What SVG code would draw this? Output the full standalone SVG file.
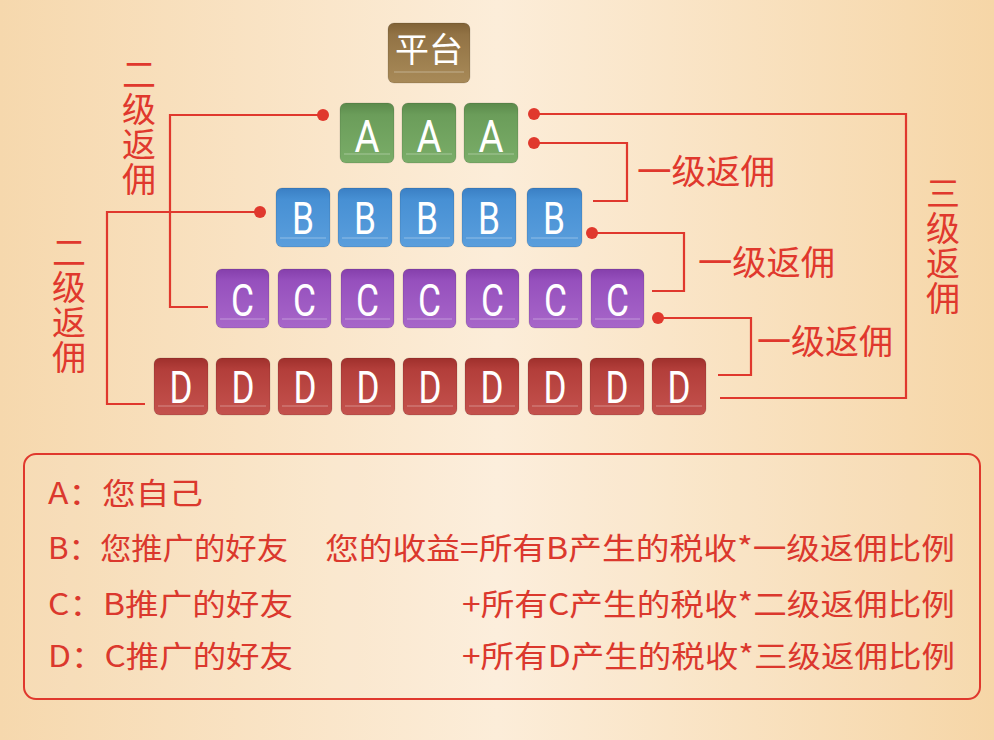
<svg xmlns="http://www.w3.org/2000/svg" width="994" height="740" viewBox="0 0 994 740">
<defs>
<linearGradient id="bg" x1="0" y1="0" x2="1" y2="0">
<stop offset="0" stop-color="#f6d8ad"/><stop offset="0.5" stop-color="#fcedd9"/><stop offset="1" stop-color="#f6d6a7"/>
</linearGradient>
<linearGradient id="gA" x1="0" y1="0" x2="0" y2="1"><stop offset="0" stop-color="#5b8a4b"/><stop offset="0.2" stop-color="#6b9d5a"/><stop offset="1" stop-color="#7aad68"/></linearGradient>
<linearGradient id="gB" x1="0" y1="0" x2="0" y2="1"><stop offset="0" stop-color="#3a7fc4"/><stop offset="0.2" stop-color="#4790d4"/><stop offset="1" stop-color="#5a9edc"/></linearGradient>
<linearGradient id="gC" x1="0" y1="0" x2="0" y2="1"><stop offset="0" stop-color="#853fab"/><stop offset="0.2" stop-color="#9650bd"/><stop offset="1" stop-color="#a766c9"/></linearGradient>
<linearGradient id="gD" x1="0" y1="0" x2="0" y2="1"><stop offset="0" stop-color="#9f302c"/><stop offset="0.2" stop-color="#b33e3a"/><stop offset="1" stop-color="#c4524d"/></linearGradient>
<linearGradient id="gP" x1="0" y1="0" x2="0" y2="1"><stop offset="0" stop-color="#806236"/><stop offset="0.2" stop-color="#927345"/><stop offset="1" stop-color="#a88a58"/></linearGradient>
</defs>
<style>
.ln{fill:none;stroke:#e0382d;stroke-width:2.2}
.dot{fill:#e0382d}
.lbl{font-family:"Noto Sans CJK SC","Noto Sans",sans-serif;font-size:34px;fill:#e0382d}
.vl{font-family:"Noto Sans CJK SC","Noto Sans",sans-serif;font-size:34px;fill:#e0382d;writing-mode:vertical-rl;letter-spacing:1px}
.txt{font-family:"Noto Sans CJK SC","Noto Sans",sans-serif;font-size:30px;fill:#db382d}
.key{stroke:rgba(0,0,0,0.12);stroke-width:1}
.lip{stroke:rgba(255,255,255,0.35);stroke-width:1.2}
.let{font-family:Roboto,"Noto Sans",sans-serif;font-size:44px;fill:#fff;text-anchor:middle}
.plat{font-family:"Noto Sans CJK SC",sans-serif;font-size:34px;fill:#fff;text-anchor:middle}
</style>
<rect width="994" height="740" fill="url(#bg)"/>

<g id="platform">
<rect x="388" y="23" width="82" height="60" rx="6" fill="url(#gP)" class="key"/>
<line x1="394" y1="72" x2="464" y2="72" class="lip"/>
<text x="429" y="62" class="plat">平台</text>
</g>

<g id="rowA">
<rect x="340" y="103" width="54" height="60" rx="6" fill="url(#gA)" class="key"/><line x1="344" y1="154" x2="390" y2="154" class="lip"/><text x="367" y="152" class="let" font-size="47" textLength="25" lengthAdjust="spacingAndGlyphs">A</text>
<rect x="402" y="103" width="54" height="60" rx="6" fill="url(#gA)" class="key"/><line x1="406" y1="154" x2="452" y2="154" class="lip"/><text x="429" y="152" class="let" font-size="47" textLength="25" lengthAdjust="spacingAndGlyphs">A</text>
<rect x="464" y="103" width="54" height="60" rx="6" fill="url(#gA)" class="key"/><line x1="468" y1="154" x2="514" y2="154" class="lip"/><text x="491" y="152" class="let" font-size="47" textLength="25" lengthAdjust="spacingAndGlyphs">A</text>
</g>

<g id="rowB">
<rect x="276" y="188" width="54" height="59" rx="6" fill="url(#gB)" class="key"/><line x1="280" y1="238" x2="326" y2="238" class="lip"/><text x="303" y="234" class="let" textLength="22" lengthAdjust="spacingAndGlyphs">B</text>
<rect x="338" y="188" width="54" height="59" rx="6" fill="url(#gB)" class="key"/><line x1="342" y1="238" x2="388" y2="238" class="lip"/><text x="365" y="234" class="let" textLength="22" lengthAdjust="spacingAndGlyphs">B</text>
<rect x="400" y="188" width="54" height="59" rx="6" fill="url(#gB)" class="key"/><line x1="404" y1="238" x2="450" y2="238" class="lip"/><text x="427" y="234" class="let" textLength="22" lengthAdjust="spacingAndGlyphs">B</text>
<rect x="462" y="188" width="54" height="59" rx="6" fill="url(#gB)" class="key"/><line x1="466" y1="238" x2="512" y2="238" class="lip"/><text x="489" y="234" class="let" textLength="22" lengthAdjust="spacingAndGlyphs">B</text>
<rect x="527" y="188" width="55" height="59" rx="6" fill="url(#gB)" class="key"/><line x1="531" y1="238" x2="578" y2="238" class="lip"/><text x="554" y="234" class="let" textLength="22" lengthAdjust="spacingAndGlyphs">B</text>
</g>

<g id="rowC">
<rect x="216" y="269" width="53" height="59" rx="6" fill="url(#gC)" class="key"/><line x1="220" y1="319" x2="265" y2="319" class="lip"/><text x="242.5" y="316" class="let" textLength="23" lengthAdjust="spacingAndGlyphs">C</text>
<rect x="278" y="269" width="53" height="59" rx="6" fill="url(#gC)" class="key"/><line x1="282" y1="319" x2="327" y2="319" class="lip"/><text x="304.5" y="316" class="let" textLength="23" lengthAdjust="spacingAndGlyphs">C</text>
<rect x="341" y="269" width="53" height="59" rx="6" fill="url(#gC)" class="key"/><line x1="345" y1="319" x2="390" y2="319" class="lip"/><text x="367.5" y="316" class="let" textLength="23" lengthAdjust="spacingAndGlyphs">C</text>
<rect x="403" y="269" width="53" height="59" rx="6" fill="url(#gC)" class="key"/><line x1="407" y1="319" x2="452" y2="319" class="lip"/><text x="429.5" y="316" class="let" textLength="23" lengthAdjust="spacingAndGlyphs">C</text>
<rect x="466" y="269" width="53" height="59" rx="6" fill="url(#gC)" class="key"/><line x1="470" y1="319" x2="515" y2="319" class="lip"/><text x="492.5" y="316" class="let" textLength="23" lengthAdjust="spacingAndGlyphs">C</text>
<rect x="529" y="269" width="53" height="59" rx="6" fill="url(#gC)" class="key"/><line x1="533" y1="319" x2="578" y2="319" class="lip"/><text x="555.5" y="316" class="let" textLength="23" lengthAdjust="spacingAndGlyphs">C</text>
<rect x="591" y="269" width="53" height="59" rx="6" fill="url(#gC)" class="key"/><line x1="595" y1="319" x2="640" y2="319" class="lip"/><text x="617.5" y="316" class="let" textLength="23" lengthAdjust="spacingAndGlyphs">C</text>
</g>

<g id="rowD">
<rect x="154" y="358" width="54" height="57" rx="6" fill="url(#gD)" class="key"/><line x1="158" y1="406" x2="204" y2="406" class="lip"/><text x="181" y="403" class="let" textLength="23" lengthAdjust="spacingAndGlyphs">D</text>
<rect x="216" y="358" width="54" height="57" rx="6" fill="url(#gD)" class="key"/><line x1="220" y1="406" x2="266" y2="406" class="lip"/><text x="243" y="403" class="let" textLength="23" lengthAdjust="spacingAndGlyphs">D</text>
<rect x="278" y="358" width="54" height="57" rx="6" fill="url(#gD)" class="key"/><line x1="282" y1="406" x2="328" y2="406" class="lip"/><text x="305" y="403" class="let" textLength="23" lengthAdjust="spacingAndGlyphs">D</text>
<rect x="341" y="358" width="54" height="57" rx="6" fill="url(#gD)" class="key"/><line x1="345" y1="406" x2="391" y2="406" class="lip"/><text x="368" y="403" class="let" textLength="23" lengthAdjust="spacingAndGlyphs">D</text>
<rect x="403" y="358" width="54" height="57" rx="6" fill="url(#gD)" class="key"/><line x1="407" y1="406" x2="453" y2="406" class="lip"/><text x="430" y="403" class="let" textLength="23" lengthAdjust="spacingAndGlyphs">D</text>
<rect x="465" y="358" width="54" height="57" rx="6" fill="url(#gD)" class="key"/><line x1="469" y1="406" x2="515" y2="406" class="lip"/><text x="492" y="403" class="let" textLength="23" lengthAdjust="spacingAndGlyphs">D</text>
<rect x="528" y="358" width="54" height="57" rx="6" fill="url(#gD)" class="key"/><line x1="532" y1="406" x2="578" y2="406" class="lip"/><text x="555" y="403" class="let" textLength="23" lengthAdjust="spacingAndGlyphs">D</text>
<rect x="590" y="358" width="54" height="57" rx="6" fill="url(#gD)" class="key"/><line x1="594" y1="406" x2="640" y2="406" class="lip"/><text x="617" y="403" class="let" textLength="23" lengthAdjust="spacingAndGlyphs">D</text>
<rect x="652" y="358" width="54" height="57" rx="6" fill="url(#gD)" class="key"/><line x1="656" y1="406" x2="702" y2="406" class="lip"/><text x="679" y="403" class="let" textLength="23" lengthAdjust="spacingAndGlyphs">D</text>
</g>

<g id="connectors">
<polyline class="ln" points="323,115 170,115 170,307 208,307"/>
<circle class="dot" cx="323" cy="115" r="6"/>
<polyline class="ln" points="260,212 107,212 107,404 145,404"/>
<circle class="dot" cx="260" cy="212" r="6"/>
<polyline class="ln" points="534,114 906,114 906,398 720,398"/>
<circle class="dot" cx="534" cy="114" r="6"/>
<polyline class="ln" points="534,143 627,143 627,201 593,201"/>
<circle class="dot" cx="534" cy="143" r="6"/>
<polyline class="ln" points="592,233 684,233 684,291 652,291"/>
<circle class="dot" cx="592" cy="233" r="6"/>
<polyline class="ln" points="658,318 751,318 751,375 718,375"/>
<circle class="dot" cx="658" cy="318" r="6"/>
</g>

<g id="labels">
<text class="vl" x="139" y="57">二级返佣</text>
<text class="vl" x="69" y="235">二级返佣</text>
<text class="vl" x="943" y="176">三级返佣</text>
<text class="lbl" x="637" y="184" textLength="138" lengthAdjust="spacingAndGlyphs">一级返佣</text>
<text class="lbl" x="698" y="275" textLength="137" lengthAdjust="spacingAndGlyphs">一级返佣</text>
<text class="lbl" x="757" y="354" textLength="136" lengthAdjust="spacingAndGlyphs">一级返佣</text>
</g>

<g id="legend">
<rect x="24" y="454" width="956" height="245" rx="12" fill="#ffffff" fill-opacity="0.08" stroke="#e0382d" stroke-width="2"/>
<text class="txt" x="48" y="504" textLength="155" lengthAdjust="spacingAndGlyphs">A：您自己</text>
<text class="txt" x="48" y="559" textLength="240" lengthAdjust="spacingAndGlyphs">B：您推广的好友</text>
<text class="txt" x="325" y="559" textLength="630" lengthAdjust="spacingAndGlyphs">您的收益=所有B产生的税收*一级返佣比例</text>
<text class="txt" x="48" y="615" textLength="245" lengthAdjust="spacingAndGlyphs">C：B推广的好友</text>
<text class="txt" x="462" y="615" textLength="493" lengthAdjust="spacingAndGlyphs">+所有C产生的税收*二级返佣比例</text>
<text class="txt" x="48" y="667" textLength="245" lengthAdjust="spacingAndGlyphs">D：C推广的好友</text>
<text class="txt" x="462" y="667" textLength="493" lengthAdjust="spacingAndGlyphs">+所有D产生的税收*三级返佣比例</text>
</g>
</svg>
